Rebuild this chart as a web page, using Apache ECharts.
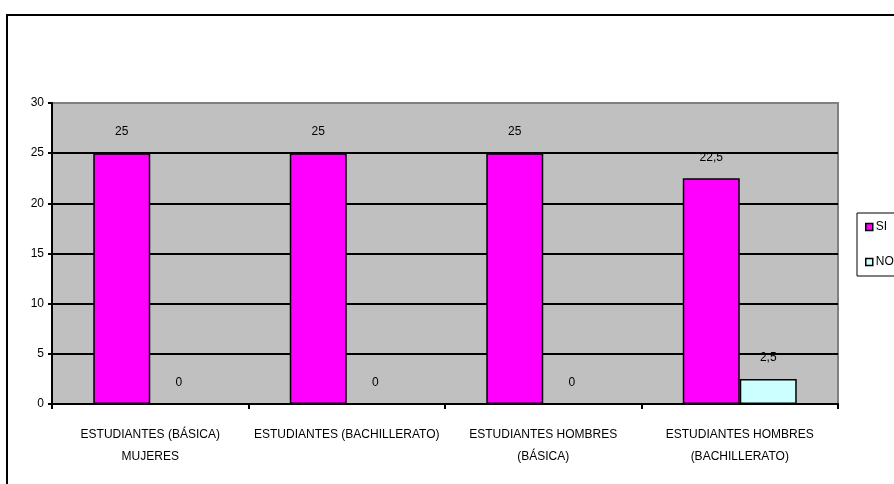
<!DOCTYPE html>
<html>
<head>
<meta charset="utf-8">
<script src="https://cdn.jsdelivr.net/npm/echarts@6/dist/echarts.min.js"></script>
<style>html,body{margin:0;padding:0;background:#fff;}#c{width:894px;height:484px;}</style>
</head>
<body>
<div id="c"></div>
<script>
const categories = ["ESTUDIANTES (BÁSICA)\nMUJERES", "ESTUDIANTES (BACHILLERATO)", "ESTUDIANTES HOMBRES\n(BÁSICA)", "ESTUDIANTES HOMBRES\n(BACHILLERATO)"];
const siValues = [25, 25, 25, 22.5];
const noValues = [0, 0, 0, 2.5];
const seriesNames = ["SI", "NO"];
const yTicks = {min: 0, max: 30, interval: 5};

const fmt = v => String(v).replace('.', ',');
const font = "'Liberation Sans', Arial, sans-serif";
const chart = echarts.init(document.getElementById('c'), null, {renderer: 'canvas'});
const labelCfg = {show: true, position: 'top', distance: 15, color: '#000', fontSize: 12, fontFamily: font,
  formatter: p => fmt(p.value)};
chart.setOption({
  animation: false,
  backgroundColor: '#fff',
  graphic: [{type: 'rect', shape: {x: 7, y: 15, width: 950, height: 520},
    style: {fill: 'none', stroke: '#000', lineWidth: 2}, z: 100}],
  grid: {left: 52, right: 56, top: 103, bottom: 80, show: true, backgroundColor: '#C0C0C0',
    borderColor: '#808080', borderWidth: 2},
  legend: {data: seriesNames, orient: 'vertical', left: 857, top: 213, itemWidth: 7, itemHeight: 7,
    itemGap: 23, padding: [8, 60, 8, 8], borderColor: '#000', borderWidth: 1, backgroundColor: '#fff',
    icon: 'rect', textStyle: {color: '#000', fontSize: 12, fontFamily: font, padding: [0, 0, 0, -2]},
    itemStyle: {borderColor: '#000', borderWidth: 1.5}},
  xAxis: {type: 'category', data: categories,
    axisLine: {lineStyle: {color: '#000', width: 2}},
    axisTick: {show: true, alignWithLabel: false, length: 5, lineStyle: {color: '#000', width: 2}},
    axisLabel: {color: '#000', fontSize: 12, fontFamily: font, lineHeight: 22, margin: 20, interval: 0},
    splitLine: {show: false}},
  yAxis: {type: 'value', min: yTicks.min, max: yTicks.max, interval: yTicks.interval,
    axisLine: {show: true, lineStyle: {color: '#000', width: 2}},
    axisTick: {show: true, length: 4, lineStyle: {color: '#000', width: 2}},
    axisLabel: {color: '#000', fontSize: 12, fontFamily: font, margin: 8},
    splitLine: {show: true, lineStyle: {color: ['#000', '#000', '#000', '#000', '#000', '#000', '#808080'], width: 2}}},
  series: [
    {name: seriesNames[0], type: 'bar', data: siValues, barGap: '0%', barCategoryGap: '42%',
      itemStyle: {color: '#FF00FF', borderColor: '#000', borderWidth: 1.5}, label: labelCfg},
    {name: seriesNames[1], type: 'bar', data: noValues, barGap: '0%', barCategoryGap: '42%',
      itemStyle: {color: '#CCFFFF', borderColor: '#000', borderWidth: 1.5}, label: labelCfg}
  ]
});
</script>
</body>
</html>
